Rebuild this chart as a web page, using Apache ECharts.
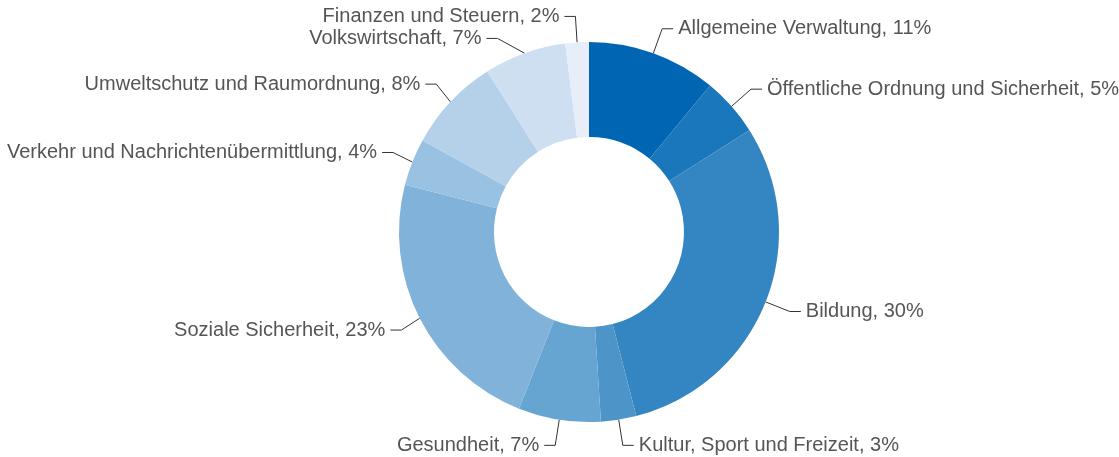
<!DOCTYPE html>
<html>
<head>
<meta charset="utf-8">
<script src="https://cdn.jsdelivr.net/npm/echarts@6/dist/echarts.min.js"></script>
<style>
  html, body { margin: 0; padding: 0; background: #fff; }
  #chart { width: 1119px; height: 457px; }
</style>
</head>
<body>
<div id="chart"></div>
<script>
const categories = [
    "Allgemeine Verwaltung",
    "Öffentliche Ordnung und Sicherheit",
    "Bildung",
    "Kultur, Sport und Freizeit",
    "Gesundheit",
    "Soziale Sicherheit",
    "Verkehr und Nachrichtenübermittlung",
    "Umweltschutz und Raumordnung",
    "Volkswirtschaft",
    "Finanzen und Steuern"
];
const shares = [11, 5, 30, 3, 7, 23, 4, 8, 7, 2];
const colors = [
    "#0066b3", "#1a77bb", "#3386c2", "#4d94c9", "#66a4d2",
    "#80b2da", "#99c2e2", "#b4d1e9", "#cddff1", "#e7eef9"
];

const chart = echarts.init(document.getElementById("chart"));
const option = {
    animation: false,
    color: colors,
    series: [
        {
            name: "Ausgaben",
            type: "pie",
            center: [589, 232],
            radius: [95, 190],
            startAngle: 90,
            clockwise: true,
            avoidLabelOverlap: true,
            data: categories.map((name, i) => ({ name: name, value: shares[i] })),
            label: {
                show: true,
                formatter: "{b}, {c}%",
                color: "#555555",
                fontFamily: "Liberation Sans, Arial, sans-serif",
                fontSize: 20,
                overflow: "none",
                edgeDistance: 0,
                distanceToLabelLine: 5
            },
            labelLine: {
                show: true,
                length: 26,
                length2: 11,
                lineStyle: { color: "#333333", width: 1 }
            },
            itemStyle: { borderWidth: 0 },
            emphasis: { disabled: true }
        }
    ]
};
chart.setOption(option);
</script>
</body>
</html>
